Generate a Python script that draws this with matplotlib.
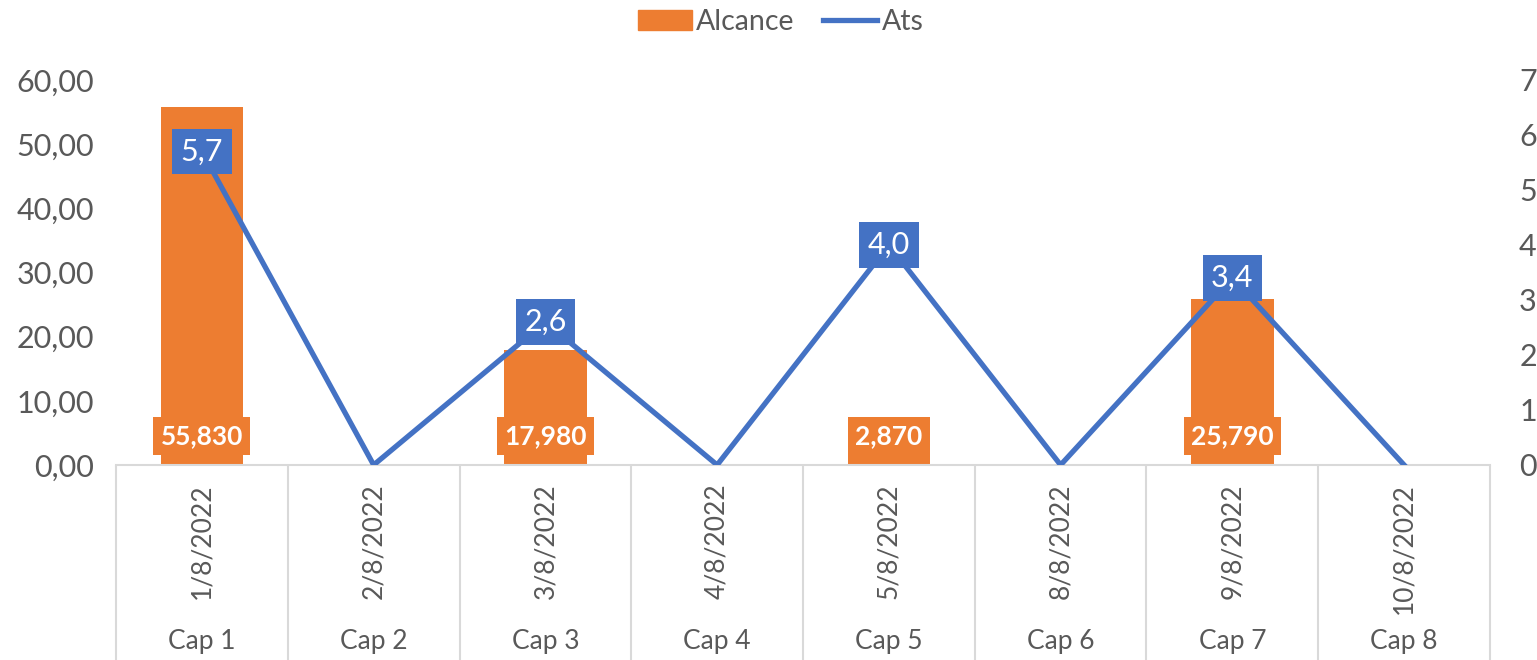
import matplotlib.pyplot as plt
from matplotlib.lines import Line2D
from matplotlib.patches import Patch
import numpy as np

plt.rcParams["font.family"] = ["Lato", "DejaVu Sans"]

caps = ["Cap 1", "Cap 2", "Cap 3", "Cap 4", "Cap 5", "Cap 6", "Cap 7", "Cap 8"]
datas = ["1/8/2022", "2/8/2022", "3/8/2022", "4/8/2022",
         "5/8/2022", "8/8/2022", "9/8/2022", "10/8/2022"]
alcance = [55.830, np.nan, 17.980, np.nan, 2.870, np.nan, 25.790, np.nan]
ats = [5.7, 0, 2.6, 0, 4.0, 0, 3.4, 0]

ORANGE = "#ED7D31"
BLUE = "#4472C4"
GREY = "#595959"
LINE_GREY = "#D9D9D9"

fig = plt.figure(figsize=(15.37, 6.6), dpi=100)
ax = fig.add_axes([0.0755, 0.2955, 0.8939, 0.5833])
x = np.arange(len(caps))

ax.bar(x, alcance, width=0.48, color=ORANGE, zorder=2)
ax.set_xlim(-0.5, len(caps) - 0.5)
ax.set_ylim(0, 60)
ax.set_yticks(np.arange(0, 61, 10))
ax.set_yticklabels([f"{v:.2f}".replace(".", ",") for v in np.arange(0, 61, 10)])
ax.set_xticks([])
ax.tick_params(axis="y", length=0, labelsize=22, labelcolor=GREY, pad=16)
for s in ["top", "right", "left"]:
    ax.spines[s].set_visible(False)
ax.spines["bottom"].set_color(LINE_GREY)
ax.spines["bottom"].set_linewidth(1.5)

# rótulos das barras (base interna)
for xi, v in zip(x, alcance):
    if np.isnan(v):
        continue
    ax.text(xi, 4.5, f"{v:.3f}".replace(".", ","), ha="center", va="center",
            color="white", fontsize=19, fontweight="bold", zorder=5,
            bbox=dict(boxstyle="square,pad=0.28", fc=ORANGE, ec="none"))

ax2 = ax.twinx()
ax2.plot(x, ats, color=BLUE, lw=3.8, zorder=3, solid_joinstyle="miter")
ax2.set_ylim(0, 7)
ax2.set_yticks(range(0, 8))
ax2.tick_params(axis="y", length=0, labelsize=22, labelcolor=GREY, pad=21)
for s in ax2.spines.values():
    s.set_visible(False)

for xi, v in zip(x, ats):
    if v == 0:
        continue
    ax2.text(xi, v, f"{v:.1f}".replace(".", ","), ha="center", va="center",
             color="white", fontsize=22, zorder=6,
             bbox=dict(boxstyle="square,pad=0.28", fc=BLUE, ec="none"))

# eixo de categorias em dois níveis
trans = ax.get_xaxis_transform()
bottom = -(660 - 465) / 385
ax.vlines(np.arange(len(caps) + 1) - 0.5, bottom, 0, colors=LINE_GREY,
          lw=1.5, transform=trans, clip_on=False)
for xi, d, c in zip(x, datas, caps):
    ax.text(xi, -0.048, d, rotation=90, ha="center", va="top", fontsize=19,
            color=GREY, transform=trans)
    ax.text(xi, -0.458, c, ha="center", va="center", fontsize=19,
            color=GREY, transform=trans)

handles = [Patch(color=ORANGE, label="Alcance"),
           Line2D([], [], color=BLUE, lw=3.8, label="Ats")]
fig.legend(handles=handles, loc="center", bbox_to_anchor=(0.508, 0.967), ncol=2,
           frameon=False, fontsize=20.5, labelcolor=GREY, handlelength=1.9,
           handletextpad=0.15, columnspacing=1.0, handleheight=0.7)

fig.savefig("out.png", dpi=100)
